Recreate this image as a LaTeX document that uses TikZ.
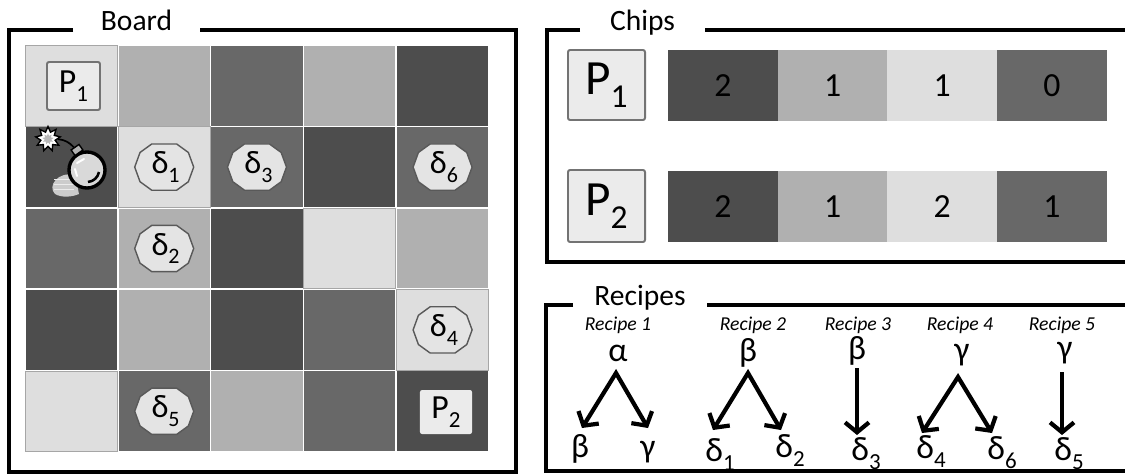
\documentclass[tikz,border=0pt]{standalone}
\usepackage{fontspec}
\setmainfont{Carlito}
\usetikzlibrary{arrows.meta, calc, shapes.geometric}
\definecolor{sqA}{HTML}{DEDEDE}
\definecolor{sqB}{HTML}{B0B0B0}
\definecolor{sqC}{HTML}{686868}
\definecolor{sqD}{HTML}{4D4D4D}
\definecolor{pfill}{HTML}{EBEBEB}
\definecolor{tokfill}{HTML}{E4E4E4}
\newcommand\lowsub[1]{\raisebox{-.27em}{\scalebox{.68}{#1}}}

\begin{document}
\begin{tikzpicture}[x=0.025cm, y=-0.025cm, line join=miter,
  frame/.style={line width=2.3pt},
  ttl/.style={font=\fontsize{21}{24}\selectfont, anchor=base, inner sep=0pt},
  sq/.style={draw=white, line width=1.1pt, minimum width=2.32cm, minimum height=2.035cm, inner sep=0pt},
  tok/.style={fill=tokfill, draw=black!65, line width=1pt},
  toktext/.style={font=\fontsize{23}{25}\selectfont, inner sep=0pt},
  pbox/.style={fill=pfill, draw=black!55, line width=1.4pt, rounded corners=1.5pt, inner sep=0pt},
  chip/.style={minimum width=2.75cm, minimum height=1.775cm, inner sep=0pt, font=\fontsize{24}{26}\selectfont},
  rname/.style={font=\fontsize{14}{16}\itshape},
  sym/.style={font=\fontsize{24}{26}\selectfont, anchor=base, inner sep=0pt},
  rarr/.style={line width=3pt, {Straight Barb[length=7pt, width=17pt]}-{Straight Barb[length=7pt, width=17pt]}},
  rarr1/.style={line width=3pt, -{Straight Barb[length=7pt, width=17pt]}}]

\useasboundingbox (0,0) rectangle (1125,474);

% frames and titles
\node[ttl] (tboard) at (136.5,30) {Board};
\draw[frame] (73,30) -- (9,30) -- (9,472) -- (516,472) -- (516,30) -- (200,30);
\node[ttl] (tchips) at (642.5,30) {Chips};
\draw[frame] (580,30) -- (547,30) -- (547,262) -- (1130,262);
\draw[frame] (705,30) -- (1130,30);
\node[ttl] (trecipes) at (640,305) {Recipes};
\draw[frame] (573,305) -- (546,305) -- (546,471) -- (1130,471);
\draw[frame] (707,305) -- (1130,305);

% board squares
\foreach \row [count=\ro] in {{A,B,C,B,D},{D,A,C,D,C},{C,B,D,A,B},{D,B,D,C,A},{A,C,B,C,D}}
  \foreach \s [count=\co] in \row
    \node[sq, fill=sq\s] (c\ro\co) at ({71.4+(\co-1)*92.8}, {85.7+(\ro-1)*81.4}) {};
\foreach \nm in {c11,c22,c34,c45,c51}
  \draw[black!35, line width=.6pt] ([shift={(1.2,1.2)}]\nm.north west) rectangle ([shift={(-1.2,-1.2)}]\nm.south east);

% players on the board
\node[pbox, minimum width=1.325cm, minimum height=1.2cm, font=\fontsize{24}{26}\selectfont] (bp1) at (73.5,86) {P\lowsub{1}};
\node[pbox, draw=none, minimum width=1.3cm, minimum height=1.1cm, font=\fontsize{24}{26}\selectfont] (bp2) at (446,412) {P\lowsub{2}};

% goal tokens
\foreach \ro/\co/\nm in {2/2/1,3/2/2,2/3/3,4/5/4,5/2/5,2/5/6}{
  \filldraw[tok] ($(c\ro\co)+(0:29.5 and 25.5)$) \foreach \a in {35,65,115,145,180,215,245,295,325}{ -- ($(c\ro\co)+(\a:29.5 and 25.5)$)} -- cycle;
  \node[toktext] (d\nm) at ([xshift=1pt]c\ro\co) {δ\lowsub{\nm}};
}

% bomb
\fill[gray!40] (75,175) .. controls (58,171) and (47,186) .. (55,194) .. controls (62,198) and (72,197) .. (79,194) -- cycle;
\foreach \yy in {179,184,189}
  \draw[gray!15, line width=.6pt] (54,\yy) -- (74,\yy);
\node[circle, draw=black, line width=2.4pt, fill=gray!30, minimum size=.9cm, inner sep=0pt] (bomb) at (87,170) {};
\draw[white, line width=1.4pt, line cap=round] ([shift={(-10,-7)}]bomb.center) -- ([shift={(-3,-11)}]bomb.center);
\draw[white, line width=1.4pt, line cap=round] ([shift={(-12,-1)}]bomb.center) -- ([shift={(-10,6)}]bomb.center);
\draw[black, line width=1.8pt] ([shift={(12,2)}]bomb.center) to[bend left=35] ([shift={(1,12)}]bomb.center);
\node[draw, fill=gray!60, line width=1pt, minimum width=.24cm, minimum height=.17cm, inner sep=0pt, rotate=35] (cap) at (77,150) {};
\node[star, star points=9, star point ratio=1.7, draw, line width=1pt, fill=white, minimum size=.62cm, inner sep=0pt] (spark) at (48,139) {};
\node[star, star points=9, star point ratio=1.7, fill=gray!55, minimum size=.28cm, inner sep=0pt] at (spark) {};
\draw[line width=1.2pt] (cap) to[bend right=20] (spark);

% chips
\node[pbox, minimum width=1.925cm, minimum height=1.75cm, font=\fontsize{35}{38}\selectfont] (cp1) at (606.5,85) {P\lowsub{1}};
\node[pbox, minimum width=1.925cm, minimum height=1.8cm, font=\fontsize{35}{38}\selectfont] (cp2) at (606.5,206) {P\lowsub{2}};
\foreach \s/\v [count=\co] in {D/2,B/1,A/1,C/0}
  \node[chip, fill=sq\s] (ka\co) at ({723+(\co-1)*109.6}, 85.5) {\v};
\foreach \s/\v [count=\co] in {D/2,B/1,A/2,C/1}
  \node[chip, fill=sq\s] (kb\co) at ({723+(\co-1)*109.6}, 206.5) {\v};

% recipes
\foreach \nm/\x in {1/618,2/753,3/858,4/960,5/1062}
  \node[rname] (rn\nm) at (\x,325) {Recipe \nm};
\node[sym] (top1) at (618,361) {α};
\node[sym] (top2) at (748,361) {β};
\node[sym] (top3) at (857,359) {β};
\node[sym] (top4) at (962,360) {γ};
\node[sym] (top5) at (1065,358) {γ};
\node[sym] (bot1a) at (580,457) {β};
\node[sym] (bot1b) at (648,457) {γ};
\node[sym] (bot2a) at (720,461) {δ\lowsub{1}};
\node[sym] (bot2b) at (790,457) {δ\lowsub{2}};
\node[sym] (bot3) at (866,460) {δ\lowsub{3}};
\node[sym] (bot4a) at (931,458) {δ\lowsub{4}};
\node[sym] (bot4b) at (1002,459) {δ\lowsub{6}};
\node[sym] (bot5) at (1069,460) {δ\lowsub{5}};

\coordinate (ap1) at (616,373); \coordinate (tp1a) at (582,428); \coordinate (tp1b) at (648,428);
\coordinate (ap2) at (748,373); \coordinate (tp2a) at (713,430); \coordinate (tp2b) at (781,430);
\coordinate (ap3) at (857,368); \coordinate (tp3) at (857,435);
\coordinate (ap4) at (958,377); \coordinate (tp4a) at (922,433); \coordinate (tp4b) at (992,433);
\coordinate (ap5) at (1062,372); \coordinate (tp5) at (1062,435);
\draw[rarr] (tp1a) -- (ap1) -- (tp1b);
\draw[rarr] (tp2a) -- (ap2) -- (tp2b);
\draw[rarr1] (ap3) -- (tp3);
\draw[rarr] (tp4a) -- (ap4) -- (tp4b);
\draw[rarr1] (ap5) -- (tp5);

\end{tikzpicture}
\end{document}
